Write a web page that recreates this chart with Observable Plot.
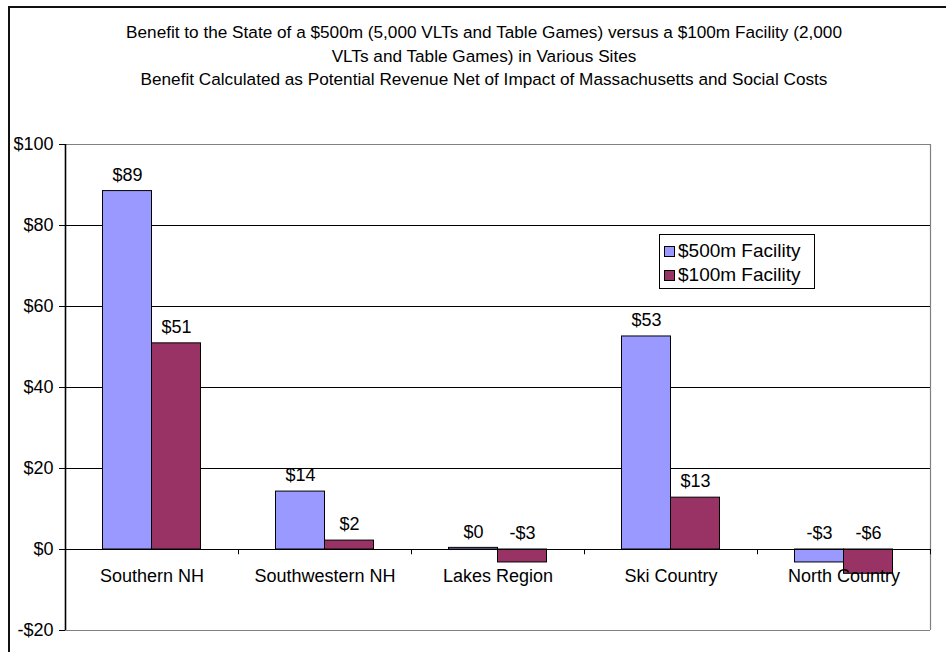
<!DOCTYPE html>
<html>
<head>
<meta charset="utf-8">
<script src="https://cdn.jsdelivr.net/npm/d3@7"></script>
<script src="https://cdn.jsdelivr.net/npm/@observablehq/plot@0.6"></script>
<style>
  html, body { margin: 0; padding: 0; background: #fff; }
  body { width: 946px; height: 652px; overflow: hidden; position: relative; font-family: "Liberation Sans", Arial, sans-serif; }
  #frame { position: absolute; left: 8px; top: 6px; width: 1200px; height: 1200px; border-left: 2px solid #111; border-top: 2px solid #111; box-sizing: border-box; pointer-events: none; }
  #title { position: absolute; left: 0; top: 21px; width: 968px; text-align: center; font-size: 17.2px; line-height: 23.5px; color: #000; }
  #chart { position: absolute; left: 0; top: 0; }
  #legend { position: absolute; left: 659px; top: 234px; width: 156px; height: 55px; border: 1px solid #000; box-sizing: border-box; background: #fff; font-size: 19px; padding-top: 4px; }
  .row { display: flex; align-items: center; height: 24px; padding-left: 4px; }
  .sw { width: 11px; height: 11px; border: 1px solid #000; box-sizing: border-box; margin-right: 3px; }
</style>
</head>
<body>
<div id="chart"></div>
<div id="frame"></div>
<div id="title"></div>
<div id="legend"></div>
<script>
const categories = ["Southern NH", "Southwestern NH", "Lakes Region", "Ski Country", "North Country"];
const seriesNames = ["$500m Facility", "$100m Facility"];
const values500 = [88.5, 14.3, 0.4, 52.6, -3.2];
const values100 = [50.9, 2.2, -3.2, 12.8, -6.0];
const seriesColors = ["#9999FF", "#993366"];
const yTicks = [-20, 0, 20, 40, 60, 80, 100];
const titleLines = [
  "Benefit to the State of a $500m (5,000 VLTs and Table Games) versus a $100m Facility (2,000",
  "VLTs and Table Games) in Various Sites",
  "Benefit Calculated as Potential Revenue Net of Impact of Massachusetts and Social Costs"
];

const money = v => (v < 0 ? "-$" : "$") + Math.abs(Math.round(v));
const d500 = categories.map((c, i) => ({cat: c, value: values500[i]}));
const d100 = categories.map((c, i) => ({cat: c, value: values100[i]}));

const half = (946 - 65 - 16) / categories.length / 2; // half band width
const barW = 49;

const chart = Plot.plot({
  width: 946,
  height: 652,
  marginLeft: 65,
  marginRight: 16,
  marginTop: 144,
  marginBottom: 22,
  style: {fontFamily: "'Liberation Sans', Arial, sans-serif", background: "transparent", color: "#000"},
  x: {domain: categories, padding: 0, axis: null, label: null},
  y: {domain: [-20, 100], axis: null, label: null},
  marks: [
    Plot.ruleY(yTicks.filter(t => t !== -20 && t !== 100), {stroke: "#000", strokeWidth: 1}),
    Plot.ruleY([-20, 100], {stroke: "#808080", strokeWidth: 1.2}),
    Plot.ruleX([categories[categories.length - 1]], {x: d => d, dx: half, stroke: "#808080", strokeWidth: 1.2}),
    Plot.barY(d500, {x: "cat", y: "value", fill: seriesColors[0], stroke: "#000", strokeWidth: 1, insetLeft: half - barW, insetRight: half}),
    Plot.barY(d100, {x: "cat", y: "value", fill: seriesColors[1], stroke: "#000", strokeWidth: 1, insetLeft: half, insetRight: half - barW}),
    Plot.ruleY([0], {stroke: "#000", strokeWidth: 1.2}),
    Plot.ruleX(categories.slice(1), {x: d => d, dx: -half, y1: 0, y2: -1.3, stroke: "#000"}),
    Plot.ruleX([categories[categories.length - 1]], {x: d => d, dx: half, y1: 0, y2: -1.3, stroke: "#000"}),
    Plot.ruleX([categories[0]], {x: d => d, dx: -half, stroke: "#000", strokeWidth: 1.6}),
    Plot.axisY({ticks: yTicks, tickFormat: money, tickSize: 6, tickPadding: 6, fontSize: 18, stroke: "#000", label: null}),
    Plot.text(d500, {x: "cat", y: d => Math.max(d.value, 0), text: d => money(d.value), dx: -barW / 2, dy: -16, fontSize: 18, fill: "#000"}),
    Plot.text(d100, {x: "cat", y: d => Math.max(d.value, 0), text: d => money(d.value), dx: barW / 2, dy: -16, fontSize: 18, fill: "#000"}),
    Plot.text(categories, {x: d => d, y: 0, dy: 27, text: d => d, fontSize: 18, fill: "#000"})
  ]
});
document.getElementById("chart").appendChild(chart);

document.getElementById("title").innerHTML = titleLines.map(l => `<div>${l}</div>`).join("");
document.getElementById("legend").innerHTML = seriesNames.map((s, i) =>
  `<div class="row"><span class="sw" style="background:${seriesColors[i]}"></span><span>${s}</span></div>`).join("");
</script>
</body>
</html>
